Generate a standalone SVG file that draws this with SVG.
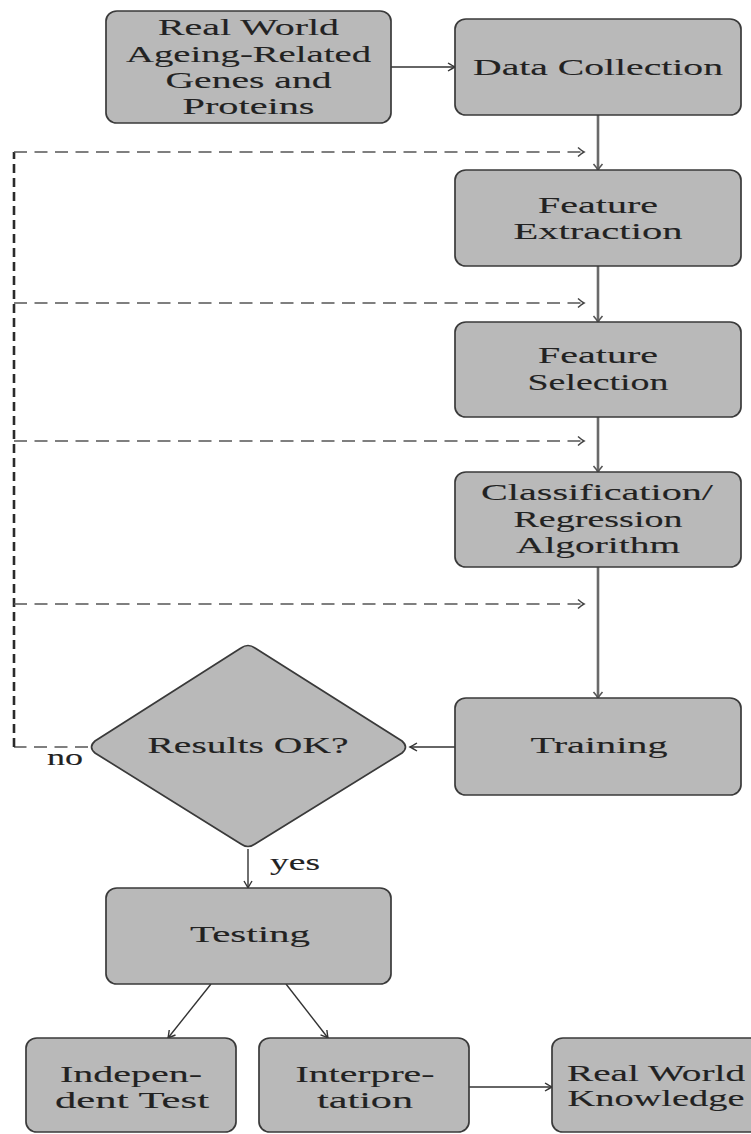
<svg xmlns="http://www.w3.org/2000/svg" width="751" height="1134" viewBox="0 0 751 1134">
<defs>
<style>
.box{fill:#b9b9b9;stroke:#3a3a3a;stroke-width:1.7}
.t{font-family:"Liberation Serif","DejaVu Serif",serif;font-size:24px;fill:#222;stroke:#222;stroke-width:0.12;text-anchor:middle}
.v{fill:none;stroke:#6a6a6a;stroke-width:2.6}
.h{fill:none;stroke:#333;stroke-width:1.4}
.dh{fill:none;stroke:#555;stroke-width:1.4;stroke-dasharray:13 7.5}
.dv{fill:none;stroke:#2a2a2a;stroke-width:2.6;stroke-dasharray:9 5}
</style>
<marker id="av" viewBox="-8 -6 10 12" refX="0" refY="0" markerWidth="10" markerHeight="12" markerUnits="userSpaceOnUse" orient="auto"><path d="M-6,-4.5 Q-2,-1 0,0 Q-2,1 -6,4.5" fill="none" stroke="#555" stroke-width="1.6"/></marker>
<marker id="ah" viewBox="-8 -6 10 12" refX="0" refY="0" markerWidth="10" markerHeight="12" markerUnits="userSpaceOnUse" orient="auto"><path d="M-7,-4 Q-2,-1 0,0 Q-2,1 -7,4" fill="none" stroke="#333" stroke-width="1.4"/></marker>
<marker id="ad" viewBox="-8 -6 10 12" refX="0" refY="0" markerWidth="10" markerHeight="12" markerUnits="userSpaceOnUse" orient="auto"><path d="M-6,-4.5 Q-2,-1 0,0 Q-2,1 -6,4.5" fill="none" stroke="#444" stroke-width="1.5"/></marker>
</defs>
<g id="connectors">
<path class="h" d="M391,67 H455" marker-end="url(#ah)"/>
<path class="v" d="M598,115 V170" marker-end="url(#av)"/>
<path class="v" d="M598,266 V322" marker-end="url(#av)"/>
<path class="v" d="M598,417 V472" marker-end="url(#av)"/>
<path class="v" d="M598,567 V698" marker-end="url(#av)"/>
<path class="h" d="M455,747 H410" marker-end="url(#ah)"/>
<path class="dh" d="M88,747 H14"/>
<path class="dv" d="M14,747 V152"/>
<path class="dh" d="M14,152 H584" marker-end="url(#ad)"/>
<path class="dh" d="M14,303 H584" marker-end="url(#ad)"/>
<path class="dh" d="M14,441 H584" marker-end="url(#ad)"/>
<path class="dh" d="M14,604 H584" marker-end="url(#ad)"/>
<path class="h" d="M248,849 V888" marker-end="url(#ah)"/>
<path class="h" d="M211,984 L168,1038" marker-end="url(#ah)"/>
<path class="h" d="M286,984 L328,1038" marker-end="url(#ah)"/>
<path class="h" d="M469,1087 H552" marker-end="url(#ah)"/>
<text class="t" x="65" y="765" textLength="36" lengthAdjust="spacingAndGlyphs">no</text>
<text class="t" x="295" y="870" textLength="50" lengthAdjust="spacingAndGlyphs">yes</text>
</g>
<g id="n-realworld">
<rect class="box" x="106" y="11" width="285" height="112" rx="11" ry="10"/>
<text class="t" x="248.5" y="35" textLength="181" lengthAdjust="spacingAndGlyphs">Real World</text>
<text class="t" x="248.5" y="62" textLength="245" lengthAdjust="spacingAndGlyphs">Ageing-Related</text>
<text class="t" x="248.5" y="88" textLength="166" lengthAdjust="spacingAndGlyphs">Genes and</text>
<text class="t" x="248.5" y="114" textLength="132" lengthAdjust="spacingAndGlyphs">Proteins</text>
</g>
<g id="n-datacollection">
<rect class="box" x="455" y="19" width="286" height="96" rx="11" ry="10"/>
<text class="t" x="598" y="75" textLength="250" lengthAdjust="spacingAndGlyphs">Data Collection</text>
</g>
<g id="n-featureextraction">
<rect class="box" x="455" y="170" width="286" height="96" rx="11" ry="10"/>
<text class="t" x="598" y="213" textLength="120" lengthAdjust="spacingAndGlyphs">Feature</text>
<text class="t" x="598" y="239" textLength="169" lengthAdjust="spacingAndGlyphs">Extraction</text>
</g>
<g id="n-featureselection">
<rect class="box" x="455" y="322" width="286" height="95" rx="11" ry="10"/>
<text class="t" x="598" y="363" textLength="120" lengthAdjust="spacingAndGlyphs">Feature</text>
<text class="t" x="598" y="390" textLength="141" lengthAdjust="spacingAndGlyphs">Selection</text>
</g>
<g id="n-classification">
<rect class="box" x="455" y="472" width="286" height="95" rx="11" ry="10"/>
<text class="t" x="597" y="500" textLength="232" lengthAdjust="spacingAndGlyphs">Classification/</text>
<text class="t" x="598" y="527" textLength="169" lengthAdjust="spacingAndGlyphs">Regression</text>
<text class="t" x="598" y="553" textLength="164" lengthAdjust="spacingAndGlyphs">Algorithm</text>
</g>
<g id="n-training">
<rect class="box" x="455" y="698" width="286" height="97" rx="11" ry="10"/>
<text class="t" x="599" y="753" textLength="137" lengthAdjust="spacingAndGlyphs">Training</text>
</g>
<g id="n-results">
<path class="box" d="M241,648 Q248,643 255,648 L402,741 Q409,747 402,753 L255,844 Q248,849 241,844 L95,753 Q88,747 95,741 Z"/>
<text class="t" x="248" y="753" textLength="201" lengthAdjust="spacingAndGlyphs">Results OK?</text>
</g>
<g id="n-testing">
<rect class="box" x="106" y="888" width="285" height="96" rx="11" ry="10"/>
<text class="t" x="250" y="942" textLength="120" lengthAdjust="spacingAndGlyphs">Testing</text>
</g>
<g id="n-independent">
<rect class="box" x="26" y="1038" width="210" height="94" rx="11" ry="10"/>
<text class="t" x="131" y="1082" textLength="142" lengthAdjust="spacingAndGlyphs">Indepen-</text>
<text class="t" x="132" y="1108" textLength="154" lengthAdjust="spacingAndGlyphs">dent Test</text>
</g>
<g id="n-interpretation">
<rect class="box" x="259" y="1038" width="210" height="94" rx="11" ry="10"/>
<text class="t" x="365" y="1082" textLength="139" lengthAdjust="spacingAndGlyphs">Interpre-</text>
<text class="t" x="365" y="1108" textLength="96" lengthAdjust="spacingAndGlyphs">tation</text>
</g>
<g id="n-knowledge">
<rect class="box" x="552" y="1038" width="212" height="94" rx="11" ry="10"/>
<text class="t" x="656" y="1081" textLength="178" lengthAdjust="spacingAndGlyphs">Real World</text>
<text class="t" x="656" y="1106" textLength="177" lengthAdjust="spacingAndGlyphs">Knowledge</text>
</g>
</svg>
